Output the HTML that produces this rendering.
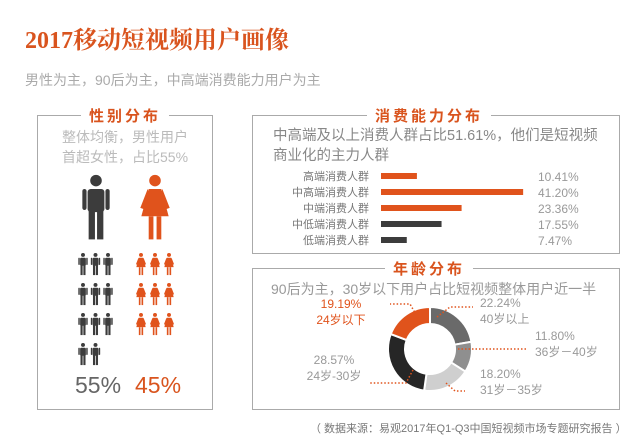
<!DOCTYPE html>
<html><head><meta charset="utf-8">
<style>
body{margin:0;width:640px;height:446px;background:#fff;overflow:hidden;font-family:"Liberation Sans","Noto Sans CJK SC",sans-serif;position:relative}
.a{position:absolute;white-space:nowrap}
.box{position:absolute;border:1.5px solid #aaa;box-sizing:border-box}
.bt{position:absolute;background:#fff;color:#d9541e;font-weight:bold;font-size:15px;letter-spacing:3px;padding:0 8px;transform:translateX(-50%);top:-11px;white-space:nowrap}
</style></head><body>
<div class="a" style="left:25px;top:20px;font-family:'Liberation Serif','Noto Serif CJK SC',serif;font-weight:bold;font-size:24px;color:#d9541e">2017移动短视频用户画像</div>
<div class="a" style="left:25px;top:70px;font-size:14px;color:#aaa">男性为主，90后为主，中高端消费能力用户为主</div>

<div class="box" style="left:37px;top:115px;width:176px;height:295px">
<div class="bt" style="left:50%">性别分布</div>
<div class="a" style="left:24px;top:11px;font-size:14px;line-height:20px;color:#bbb">整体均衡，男性用户<br>首超女性，占比55%</div>
<svg style="position:absolute;left:0;top:0" width="176" height="295" id="gsvg"></svg>
<div class="a" style="left:37px;top:256px;font-size:23px;color:#666">55%</div>
<div class="a" style="left:97px;top:256px;font-size:23px;color:#d9541e">45%</div>
</div>

<div class="box" style="left:252px;top:115px;width:368px;height:139px">
<div class="bt" style="left:176px">消费能力分布</div>
<div class="a" style="left:20px;top:10px;font-size:14.5px;line-height:20px;color:#888">中高端及以上消费人群占比51.61%，他们是短视频<br>商业化的主力人群</div>
<svg style="position:absolute;left:0;top:0" width="368" height="139" id="bsvg"></svg>
</div>

<div class="box" style="left:252px;top:268px;width:368px;height:142px">
<div class="bt" style="left:176px">年龄分布</div>
<div class="a" style="left:18px;top:10px;font-size:14px;color:#999">90后为主，30岁以下用户占比短视频整体用户近一半</div>
</div>
<svg style="position:absolute;left:0;top:0" width="640" height="446" id="dsvg"></svg>
<div class="a" style="left:310px;top:420px;font-size:11px;color:#777">（ 数据来源：易观2017年Q1-Q3中国短视频市场专题研究报告 ）</div>

<script>
const NS="http://www.w3.org/2000/svg";
function mk(p,t,at){const e=document.createElementNS(NS,t);for(const k in at)e.setAttribute(k,at[k]);p.appendChild(e);return e;}
const maleCount=11, femaleCount=9;
const g=document.getElementById('gsvg');
function man(x,y,s,c){const G=mk(g,'g',{transform:`translate(${x},${y}) scale(${s})`,fill:c});
mk(G,'circle',{cx:0,cy:-28,r:5.5});mk(G,'rect',{x:-8,y:-20,width:16,height:22,rx:3});
mk(G,'rect',{x:-13,y:-20,width:4,height:20,rx:2});mk(G,'rect',{x:9,y:-20,width:4,height:20,rx:2});
mk(G,'rect',{x:-7,y:0,width:6,height:28});mk(G,'rect',{x:1,y:0,width:6,height:28});return G;}
function woman(x,y,s,c){const G=mk(g,'g',{transform:`translate(${x},${y}) scale(${s})`,fill:c});
mk(G,'circle',{cx:0,cy:-28,r:5.5});mk(G,'path',{d:'M-6,-20 L6,-20 L13,6 L-13,6 Z'});
mk(G,'path',{d:'M-7,-20 L-14,-2 L-11,-1 L-5,-14Z M7,-20 L14,-2 L11,-1 L5,-14Z'});
mk(G,'rect',{x:-6,y:6,width:4.5,height:22});mk(G,'rect',{x:1.5,y:6,width:4.5,height:22});return G;}
let m=man(58,94,1.05,'#3c3c3c');
let w=woman(117,94,1.05,'#e0531c');
for(let i=0;i<maleCount;i++){const e=man(45+(i%3)*12.5,149+Math.floor(i/3)*30,0.36,'#3c3c3c');

}
for(let i=0;i<femaleCount;i++){const e=woman(103+(i%3)*14,149+Math.floor(i/3)*30,0.36,'#e0531c');

}

const barCats=['高端消费人群','中高端消费人群','中端消费人群','中低端消费人群','低端消费人群'];
const barVals=[10.41,41.20,23.36,17.55,7.47];
const barLabels=['10.41%','41.20%','23.36%','17.55%','7.47%'];
const barColors=['#e0531c','#e0531c','#e0531c','#3c3c3c','#3c3c3c'];
const b=document.getElementById('bsvg');
const bx=v=>128+v*3.45, by=i=>60+i*16;
barVals.forEach((v,i)=>{
 const t=mk(b,'text',{x:116,y:by(i)+4,'text-anchor':'end','font-size':11,fill:'#777'});t.textContent=barCats[i];
 
 
 const r=mk(b,'rect',{x:bx(0),y:by(i)-3,width:bx(v)-bx(0),height:6,fill:barColors[i]});
 
 
 const vt=mk(b,'text',{x:285,y:by(i)+5,'font-size':12,fill:'#999'});vt.textContent=barLabels[i];
 
 
});

const ageVals=[22.24,11.80,18.20,28.57,19.19];
const ageCats=['40岁以上','36岁－40岁','31岁－35岁','24岁-30岁','24岁以下'];
const agePct=['22.24%','11.80%','18.20%','28.57%','19.19%'];
const ageColors=['#6a6a6a','#8f8f8f','#cfcfcf','#262626','#e0531c'];
const d=document.getElementById('dsvg');
const cx=430,cy=349,R=42,r0=25;
const tot=ageVals.reduce((a,c)=>a+c,0);
let acc=0;
const pt=(a,rr)=>[cx+rr*Math.sin(a),cy-rr*Math.cos(a)];
ageVals.forEach((v,i)=>{
 const a0=acc/tot*2*Math.PI,a1=(acc+v)/tot*2*Math.PI;acc+=v;
 const L=(a1-a0)>Math.PI?1:0;const p1=pt(a0,R),p2=pt(a1,R),p3=pt(a1,r0),p4=pt(a0,r0);
 const p=mk(d,'path',{d:`M${p1}A${R},${R} 0 ${L} 1 ${p2}L${p3}A${r0},${r0} 0 ${L} 0 ${p4}Z`,fill:ageColors[i],stroke:'#fff','stroke-width':2});
 
 
});
const lbl=[[480,307,'start'],[535,340,'start'],[480,378,'start'],[334,364,'middle'],[341,308,'middle']];
const leaders=[[[437,317],[450,307],[473,307]],[[458,349],[528,349]],[[446,383],[455,391],[465,391]],[[413,370],[406,383],[370,383]],[[418,318],[410,304],[390,304]]];
ageVals.forEach((v,i)=>{
 const [x,y,an]=lbl[i];const col=i==4?'#e0531c':'#999';
 const t=mk(d,'text',{x:x,y:y,'text-anchor':an,'font-size':12,fill:col});t.textContent=agePct[i];
 
 
 const t2=mk(d,'text',{x:x,y:y+16,'text-anchor':an,'font-size':12,fill:col});t2.textContent=ageCats[i];
 
 
 const pl=mk(d,'polyline',{points:leaders[i].join(' '),fill:'none',stroke:'#e0531c','stroke-width':1.5,'stroke-dasharray':'1.5 2'});
 
 
});
</script>
</body></html>
